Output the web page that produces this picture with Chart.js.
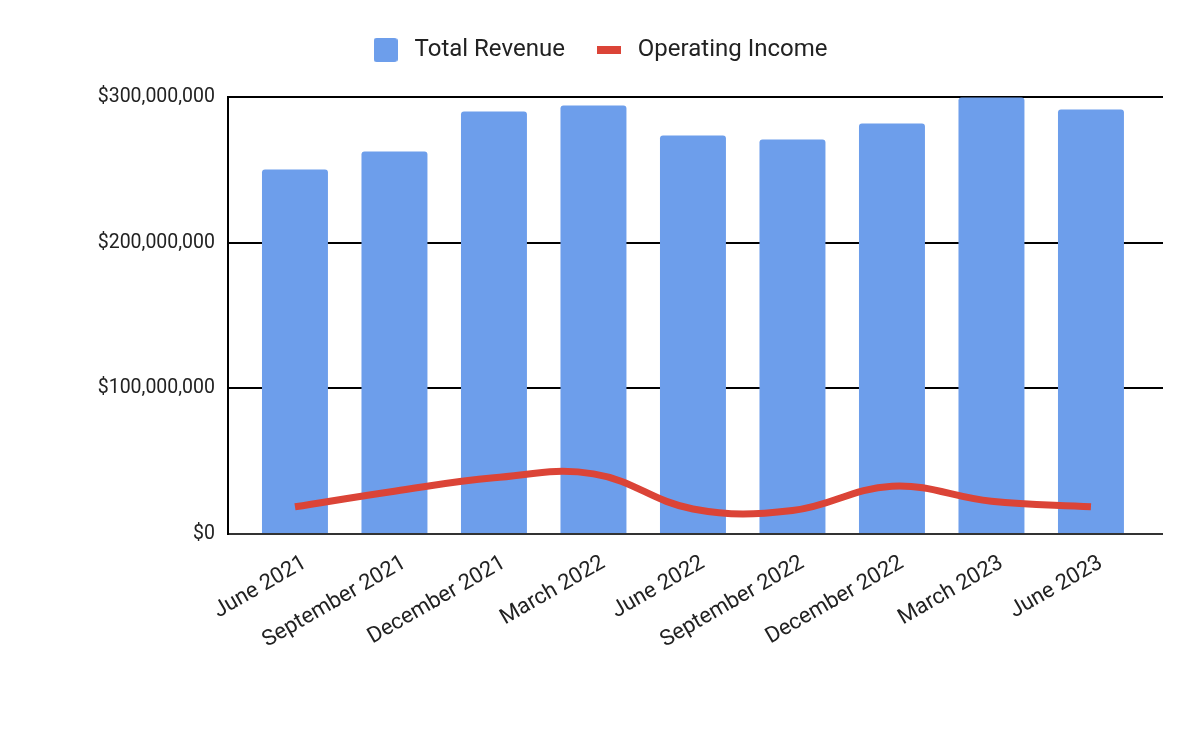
<!DOCTYPE html>
<html><head><meta charset="utf-8">
<script src="https://cdn.jsdelivr.net/npm/chart.js@4.4.0/dist/chart.umd.min.js"></script>
<style>html,body{margin:0;padding:0;background:#fff;}canvas{display:block;}</style>
</head><body>
<canvas id="c" width="1200" height="741"></canvas>
<script>
const categories = ["June 2021","September 2021","December 2021","March 2022","June 2022","September 2022","December 2022","March 2023","June 2023"];
const totalRevenue = [250200000, 262600000, 290000000, 294200000, 273600000, 270800000, 281800000, 299700000, 291400000];
const operatingIncome = [18700000, 29400000, 38600000, 41300000, 17200000, 16100000, 32800000, 22500000, 18700000];
const yTickValues = [0, 100000000, 200000000, 300000000];
const seriesNames = ["Total Revenue", "Operating Income"];

const BLUE = '#6d9eeb', RED = '#db4437';
const LEGEND_FS = 24, YTICK_FS = 19.5, XTICK_FS = 22, LEGEND_PAD = 27, XROT = 30;

function mk(w,h,color,r){const c=document.createElement('canvas');c.width=w;c.height=h;const x=c.getContext('2d');x.fillStyle=color;x.beginPath();if(x.roundRect){x.roundRect(0,0,w,h,r);}else{x.rect(0,0,w,h);}x.fill();return c;}
const boxImg = mk(24,24,BLUE,3), lineImg = mk(24,8,RED,0);

Chart.defaults.font.family = 'Roboto';
Chart.defaults.color = '#222';

const layoutTop = 50 - LEGEND_PAD - LEGEND_FS/2;
const legendFix = {
  id:'legendFix',
  beforeInit(chart){
    const lg = chart.legend; const orig = lg.fit;
    lg.fit = function(){ orig.call(this); this.height = 97 - layoutTop; };
  },
  afterLayout(chart){ const lg = chart.legend; lg.left = 0; lg.right = 1196; lg.width = 1196; }
};

new Chart(document.getElementById('c'), {
  data: {
    datasets: [
      { type:'bar', label: seriesNames[0], data: totalRevenue.map((v,i)=>({x:i,y:v})), backgroundColor: BLUE,
        borderRadius: 3, barPercentage: 0.663, categoryPercentage: 1, order: 1 },
      { type:'line', label: seriesNames[1], data: operatingIncome.map((v,i)=>({x:i,y:v})), borderColor: RED, backgroundColor: RED,
        borderWidth: 7, pointRadius: 0, tension: 0.4, fill: false, order: 0, borderCapStyle:'butt' }
    ]
  },
  options: {
    responsive: false, devicePixelRatio: 1, animation: false,
    layout: { padding: { top: layoutTop, right: 37, left: 0, bottom: 0 } },
    plugins: {
      tooltip: { enabled: false },
      legend: { position: 'top', labels: { usePointStyle: true, pointStyleWidth: 34, padding: LEGEND_PAD,
        font: { size: LEGEND_FS, family: 'Roboto' }, color: '#222',
        generateLabels(chart){ return chart.data.datasets.map((ds,i)=>({ text: ds.label, pointStyle: i===0?boxImg:lineImg,
          fillStyle: ds.backgroundColor, strokeStyle:'rgba(0,0,0,0)', lineWidth:0, hidden:false, datasetIndex:i, fontColor:'#222' })); } } }
    },
    scales: {
      x: { type:'linear', min: -0.673, max: 8.724, offset: false,
        afterFit(s){ s.height = 207; },
        grid: { display:false, offset:false }, border: { display:false },
        afterBuildTicks(s){ s.ticks = categories.map((c,i)=>({value:i})); },
        ticks: { autoSkip:false, minRotation:XROT, maxRotation:XROT, padding: 8, labelOffset: 10, font:{size:XTICK_FS}, color:'#222',
          callback(v){ return categories[v] ?? ''; } } },
      y: { min: 0, max: 300000000,
        afterFit(s){ s.width = 228; },
        afterBuildTicks(s){ s.ticks = yTickValues.map(v=>({value:v})); },
        grid: { drawTicks:false, lineWidth: 2, color(ctx){ return ctx.tick && ctx.tick.value===0 ? '#333' : '#000'; } },
        border: { display:true, color:'#000', width:2 },
        ticks: { padding: 13, font:{size:YTICK_FS}, color:'#222', callback(v){ return '$' + Number(v).toLocaleString('en-US'); } } }
    }
  },
  plugins: [legendFix]
});
</script>
</body></html>
